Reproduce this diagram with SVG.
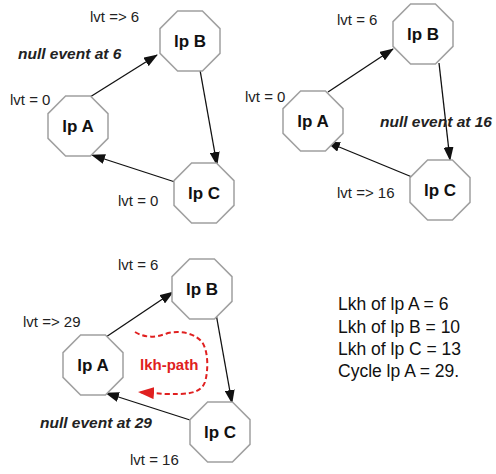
<svg xmlns="http://www.w3.org/2000/svg" xmlns:xlink="http://www.w3.org/1999/xlink" width="496" height="474" viewBox="0 0 496 474">
<style>
.oct{fill:#fff;stroke:#a0a0a0;stroke-width:1.5}
.nl{font-family:"Liberation Sans",Arial,sans-serif;font-weight:bold;font-size:17px;fill:#111;text-anchor:middle}
.lb{font-family:"Liberation Sans",Arial,sans-serif;font-size:15px;fill:#222}
.ev{font-family:"Liberation Sans",Arial,sans-serif;font-size:15.5px;font-weight:bold;font-style:italic;fill:#222}
.edge{stroke:#111;stroke-width:1.3;fill:none;marker-end:url(#ah)}
.lk{font-family:"Liberation Sans",Arial,sans-serif;font-size:17.5px;fill:#111}
</style>
<defs>
<polygon id="oct" points="-12.4,-30 12.4,-30 30,-12.4 30,12.4 12.4,30 -12.4,30 -30,12.4 -30,-12.4"/>
<marker id="ah" markerWidth="14" markerHeight="10" refX="13" refY="5" orient="auto" markerUnits="userSpaceOnUse"><path d="M0,0 L14,5 L0,10 Z" fill="#111"/></marker>
<marker id="rah" markerWidth="16" markerHeight="12" refX="15" refY="6" orient="auto" markerUnits="userSpaceOnUse"><path d="M0,0 L16,6 L0,12 Z" fill="#e02020"/></marker>
</defs>
<rect width="496" height="474" fill="#fff"/>
<!-- Panel 1 -->
<g id="p1-connectors">
<line class="edge" x1="90" y1="97" x2="157" y2="55"/>
<line class="edge" x1="200" y1="70" x2="217" y2="165"/>
<line class="edge" x1="175" y1="182" x2="92" y2="155"/>
</g>
<g id="p1-lpB"><use xlink:href="#oct" class="oct" x="190" y="41"/><text class="nl" x="190" y="47">lp B</text></g>
<g id="p1-lpA"><use xlink:href="#oct" class="oct" x="78" y="126"/><text class="nl" x="78" y="132">lp A</text></g>
<g id="p1-lpC"><use xlink:href="#oct" class="oct" x="204" y="193"/><text class="nl" x="204" y="199">lp C</text></g>
<text class="lb" x="90" y="22">lvt =&gt; 6</text>
<text class="ev" x="18" y="59">null event at 6</text>
<text class="lb" x="10" y="105">lvt = 0</text>
<text class="lb" x="118" y="206">lvt = 0</text>
<!-- Panel 2 -->
<g id="p2-connectors">
<line class="edge" x1="328" y1="92" x2="393" y2="49"/>
<line class="edge" x1="439" y1="63" x2="450" y2="160"/>
<line class="edge" x1="412" y1="177" x2="327" y2="142"/>
</g>
<g id="p2-lpB"><use xlink:href="#oct" class="oct" x="423" y="34"/><text class="nl" x="423" y="40">lp B</text></g>
<g id="p2-lpA"><use xlink:href="#oct" class="oct" x="313" y="121"/><text class="nl" x="313" y="127">lp A</text></g>
<g id="p2-lpC"><use xlink:href="#oct" class="oct" x="440" y="190"/><text class="nl" x="440" y="196">lp C</text></g>
<text class="lb" x="337" y="25">lvt = 6</text>
<text class="lb" x="245" y="102">lvt = 0</text>
<text class="ev" x="380" y="127">null event at 16</text>
<text class="lb" x="337" y="198">lvt =&gt; 16</text>
<!-- Panel 3 -->
<g id="p3-connectors">
<line class="edge" x1="106" y1="337" x2="173" y2="292"/>
<line class="edge" x1="215" y1="308" x2="232" y2="403"/>
<line class="edge" x1="190" y1="420" x2="106" y2="393"/>
<path d="M135,332 C145,338 155,338 168,333 C182,330 195,334 202,342 C209,352 208,372 205,382 C200,395 185,394 165,394 L139,392" fill="none" stroke="#e02020" stroke-width="2" stroke-dasharray="5,3" marker-end="url(#rah)"/>
</g>
<g id="p3-lpB"><use xlink:href="#oct" class="oct" x="202" y="289"/><text class="nl" x="202" y="295">lp B</text></g>
<g id="p3-lpA"><use xlink:href="#oct" class="oct" x="93" y="365"/><text class="nl" x="93" y="371">lp A</text></g>
<g id="p3-lpC"><use xlink:href="#oct" class="oct" x="220" y="432"/><text class="nl" x="220" y="438">lp C</text></g>
<text class="lb" x="118" y="270">lvt = 6</text>
<text class="lb" x="23" y="327">lvt =&gt; 29</text>
<text x="140" y="370" style="font-family:'Liberation Sans',Arial,sans-serif;font-size:15px;font-weight:bold;fill:#e02020">lkh-path</text>
<text class="ev" x="40" y="428">null event at 29</text>
<text class="lb" x="130" y="465">lvt = 16</text>
<!-- Summary -->
<text class="lk" x="338" y="310">Lkh of lp A = 6</text>
<text class="lk" x="338" y="333">Lkh of lp B = 10</text>
<text class="lk" x="338" y="355">Lkh of lp C = 13</text>
<text class="lk" x="338" y="377">Cycle lp A = 29.</text>
</svg>
